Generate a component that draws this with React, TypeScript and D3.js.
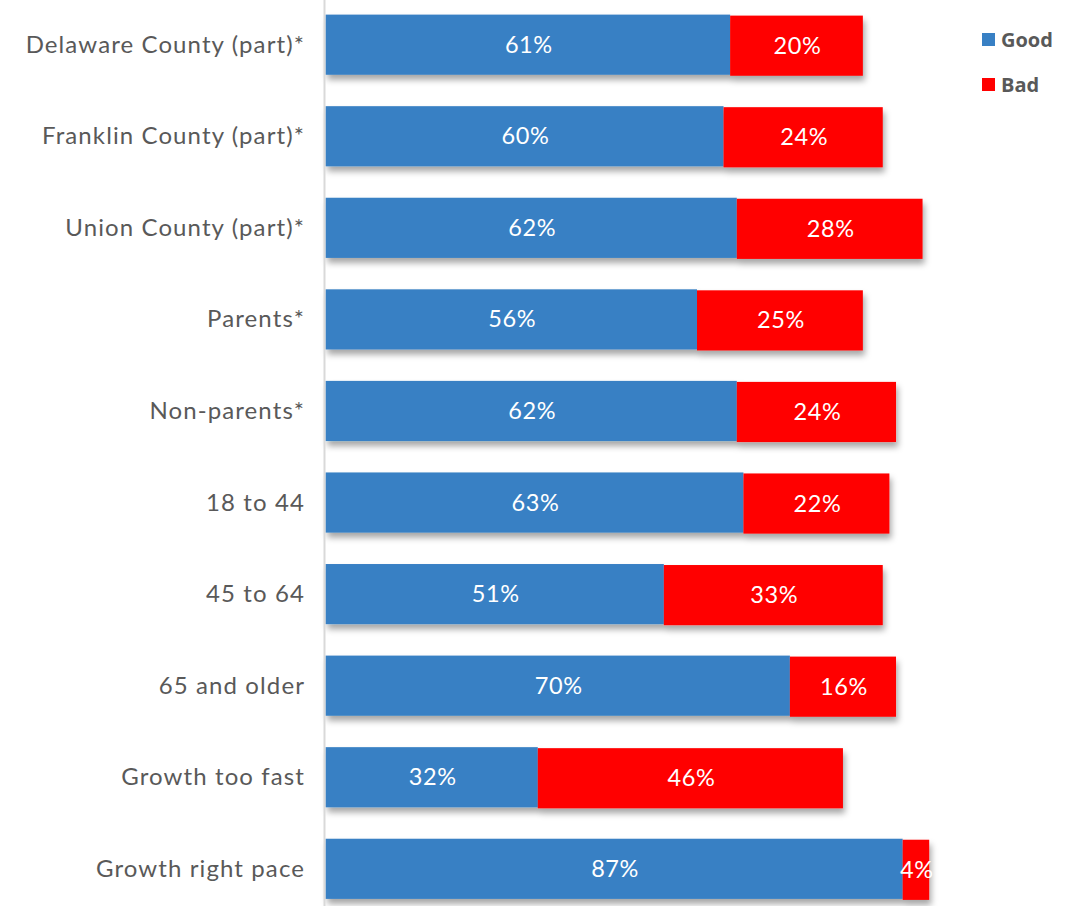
import React from "react";
import * as d3 from "d3";

const categories = [
  "Delaware County (part)*",
  "Franklin County (part)*",
  "Union County (part)*",
  "Parents*",
  "Non-parents*",
  "18 to 44",
  "45 to 64",
  "65 and older",
  "Growth too fast",
  "Growth right pace",
];
const good = [61, 60, 62, 56, 62, 63, 51, 70, 32, 87];
const bad = [20, 24, 28, 25, 24, 22, 33, 16, 46, 4];
const seriesNames = ["Good", "Bad"];
const colors = ["#3880C4", "#FF0000"];

export default function App() {
  const W = 1076, H = 906;
  const x0 = 325.5;
  const x = d3.scaleLinear().domain([0, 100]).range([x0, x0 + 663.4]);
  const y = d3.scaleBand().domain(categories).range([-0.5, 914]).paddingInner(0.343).paddingOuter(0.165);
  const font = "Lato, 'Open Sans', sans-serif";
  return (
    <svg width={W} height={H} style={{ position: "absolute", left: 0, top: 0, background: "#fff" }}>
      <defs>
        <filter id="sh" x="-5%" y="-20%" width="115%" height="160%">
          <feDropShadow dx="2" dy="5" stdDeviation="3" floodColor="#000" floodOpacity="0.35" />
        </filter>
      </defs>
      {categories.map((c, i) => {
        const yy = y(c)!;
        const h = y.bandwidth();
        return (
          <g key={c}>
            <g filter="url(#sh)">
              <rect x={x(0)} y={yy} width={x(good[i]) - x(0)} height={h} fill={colors[0]} />
              <rect x={x(good[i])} y={yy + 1} width={x(good[i] + bad[i]) - x(good[i])} height={h} fill={colors[1]} />
            </g>
            <text x={305} y={yy + h / 2 - 1.5} textAnchor="end" dominantBaseline="central" fontFamily={font} fontSize={24} letterSpacing={1.1} fill="#595959">{c}</text>
            <text x={(x(0) + x(good[i])) / 2 + 1} y={yy + h / 2 - 1} textAnchor="middle" dominantBaseline="central" fontFamily={font} fontSize={23.5} letterSpacing={0.6} fill="#fff">{good[i]}%</text>
            <text x={(x(good[i]) + x(good[i] + bad[i])) / 2 + 1} y={yy + h / 2} textAnchor="middle" dominantBaseline="central" fontFamily={font} fontSize={23.5} letterSpacing={0.6} fill="#fff">{bad[i]}%</text>
          </g>
        );
      })}
      <line x1={324.5} x2={324.5} y1={0} y2={H} stroke="#D9D9D9" strokeWidth={2} />
      {seriesNames.map((s, i) => (
        <g key={s} transform={`translate(982, ${33 + i * 45})`}>
          <rect x={0} y={0} width={13} height={13} fill={colors[i]} />
          <text x={19} y={6} dominantBaseline="central" fontFamily="'Open Sans', sans-serif" fontWeight="bold" fontSize={20} fill="#595959">{s}</text>
        </g>
      ))}
    </svg>
  );
}
